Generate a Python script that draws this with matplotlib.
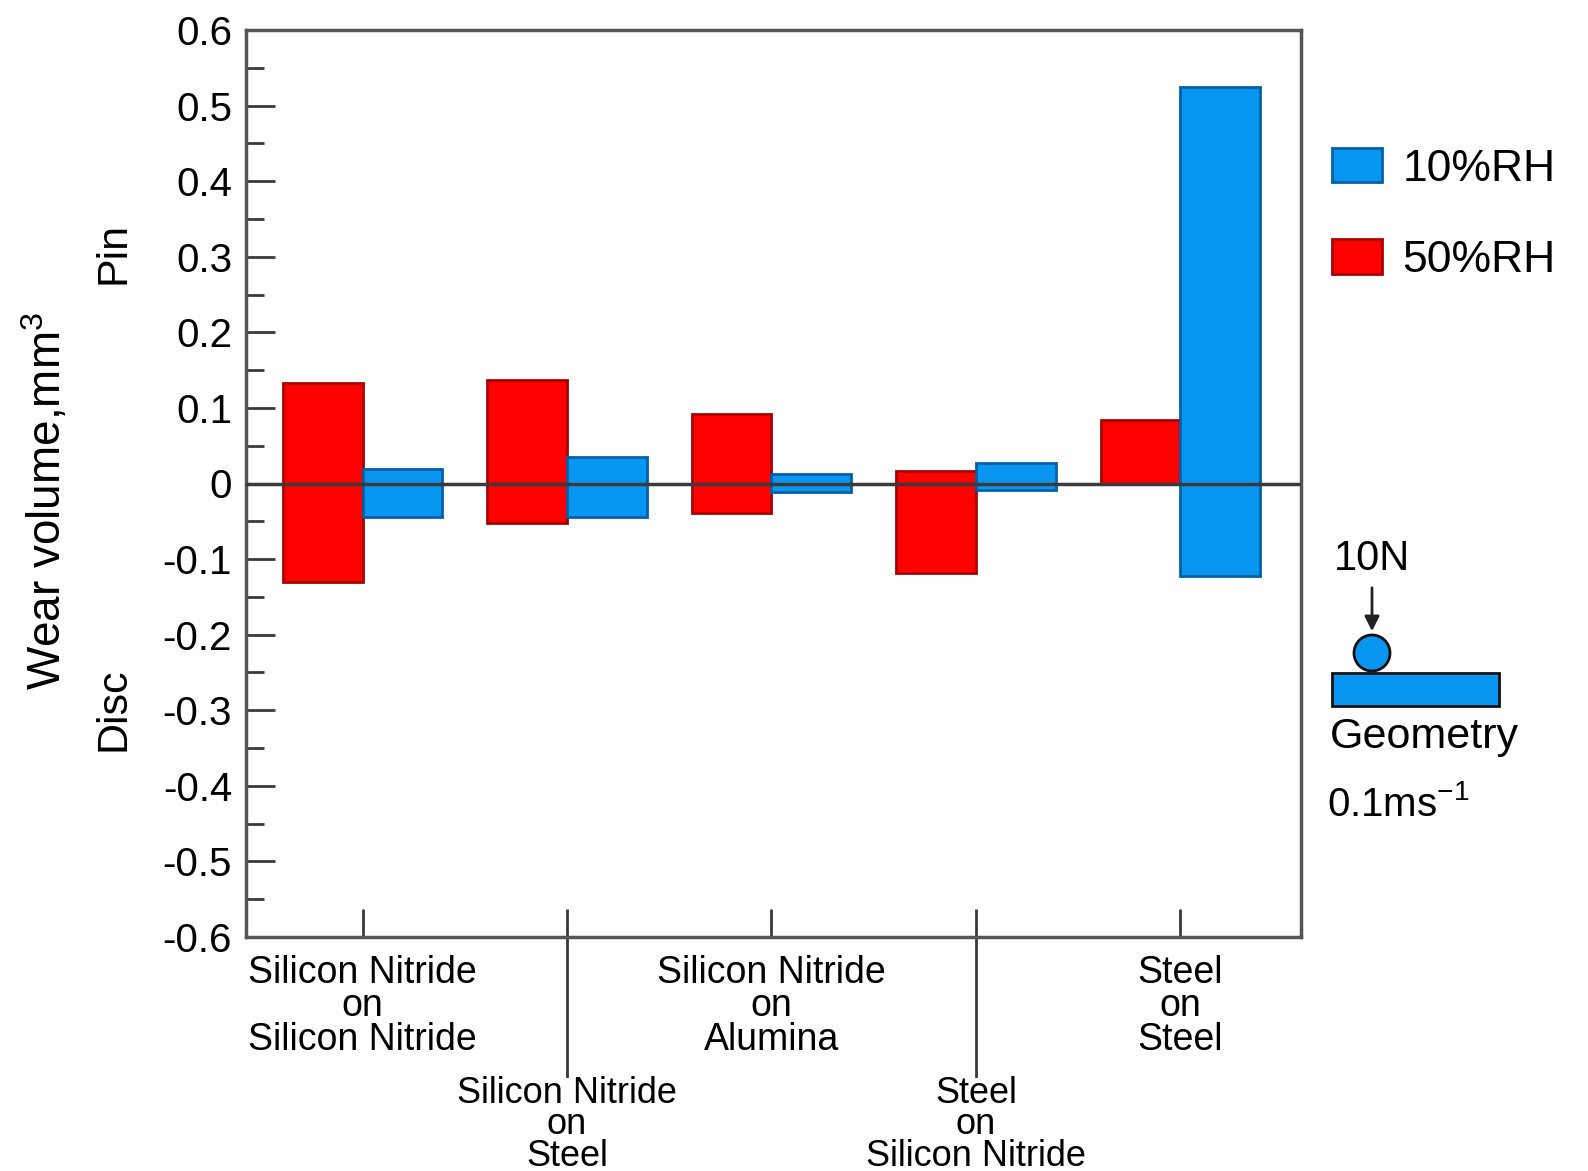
import numpy as np
import matplotlib
matplotlib.use("Agg")
import matplotlib.pyplot as plt
from matplotlib.patches import Circle, Rectangle

plt.rcParams["font.family"] = ["Liberation Sans", "DejaVu Sans"]
plt.rcParams["axes.unicode_minus"] = False
plt.rcParams["mathtext.fontset"] = "custom"
plt.rcParams["mathtext.rm"] = "Liberation Sans"
plt.rcParams["mathtext.default"] = "regular"

# -----------------------------------------------------------------------------
# Data (wear volume, mm^3): pin wear positive, disc wear negative
# -----------------------------------------------------------------------------
categories = [
    "Silicon Nitride\non\nSilicon Nitride",
    "Silicon Nitride\non\nSteel",
    "Silicon Nitride\non\nAlumina",
    "Steel\non\nSilicon Nitride",
    "Steel\non\nSteel",
]
label_row = [0, 1, 0, 1, 0]   # 0 = upper row of labels, 1 = lower row

pin_10 = [0.019, 0.035, 0.012, 0.027, 0.525]
disc_10 = [-0.044, -0.044, -0.011, -0.008, -0.123]
pin_50 = [0.133, 0.137, 0.092, 0.017, 0.084]
disc_50 = [-0.130, -0.052, -0.039, -0.118, 0.0]

yticks = [0.6, 0.5, 0.4, 0.3, 0.2, 0.1, 0.0, -0.1, -0.2, -0.3, -0.4, -0.5, -0.6]
ytick_labels = ["0.6", "0.5", "0.4", "0.3", "0.2", "0.1", "0",
                "-0.1", "-0.2", "-0.3", "-0.4", "-0.5", "-0.6"]

BLUE = "#0896f0"
BLUE_EDGE = "#0060a8"
RED = "#ff0000"
RED_EDGE = "#a80000"
LINE = "#3a3a3a"

W, H = 1588, 1171

# -----------------------------------------------------------------------------
# Figure
# -----------------------------------------------------------------------------
fig = plt.figure(figsize=(W / 100, H / 100), dpi=100)
ax = fig.add_axes([246 / W, 1 - 937 / H, (1301 - 246) / W, (937 - 30) / H])

x = np.arange(len(categories))
w = 0.39
b50 = ax.bar(x - w / 2, np.subtract(pin_50, disc_50), w, bottom=disc_50,
             color=RED, edgecolor=RED_EDGE, linewidth=2, zorder=2)
b10 = ax.bar(x + w / 2, np.subtract(pin_10, disc_10), w, bottom=disc_10,
             color=BLUE, edgecolor=BLUE_EDGE, linewidth=2, zorder=2)
ax.axhline(0, color=LINE, lw=2.5, zorder=3)

ax.set_xlim(-0.57, 4.59)
ax.set_ylim(-0.6, 0.6)
ax.set_yticks(yticks)
ax.set_yticklabels(ytick_labels)
ax.set_yticks(np.arange(-0.55, 0.6, 0.1), minor=True)
ax.set_xticks(x)
ax.set_xticklabels([])
ax.tick_params(axis="y", which="major", direction="in", length=21, width=2,
               pad=10, labelsize=29, color=LINE)
ax.tick_params(axis="y", which="minor", direction="in", length=13, width=2,
               color=LINE)
ax.tick_params(axis="x", direction="in", length=20, width=2, color=LINE)
for s in ax.spines.values():
    s.set_color("#555555")
    s.set_linewidth(2.5)

# category labels, staggered in two rows
for xi, lab, row in zip(x, categories, label_row):
    ytop = -0.02 if row == 0 else -0.153
    ax.text(xi, ytop, lab, transform=ax.get_xaxis_transform(), ha="center",
            va="top", fontsize=27 if row == 0 else 26,
            linespacing=0.9 if row == 0 else 0.87, multialignment="center")
    if row == 1:
        ax.plot([xi, xi], [0, -0.153], transform=ax.get_xaxis_transform(),
                color=LINE, lw=2, clip_on=False)

fig.legend(handles=[b10, b50], labels=["10%RH", "50%RH"], loc="upper left",
           bbox_to_anchor=(1332 / W, 1 - 148 / H), frameon=False, fontsize=32,
           handlelength=1.13, handleheight=0.81, handletextpad=0.45,
           labelspacing=1.12, borderpad=0, borderaxespad=0)

# overlay in pixel units for labels and the geometry sketch
ov = fig.add_axes([0, 0, 1, 1])
ov.set_xlim(0, W)
ov.set_ylim(H, 0)
ov.axis("off")

ov.text(46, 501, "Wear volume,mm$^3$", rotation=90, ha="center",
        va="center", fontsize=33)
ov.text(114, 253, "Pin", rotation=90, ha="center", va="center", fontsize=31)
ov.text(114, 709, "Disc", rotation=90, ha="center", va="center", fontsize=31)

ov.add_patch(Rectangle((1332, 673), 167, 33, fc=BLUE, ec="#111111", lw=2))
ov.add_patch(Circle((1372, 653), 18, fc=BLUE, ec="#111111", lw=2))
ov.annotate("", xy=(1372, 634), xytext=(1372, 585),
            arrowprops=dict(arrowstyle="-|>", color="#222222", lw=2,
                            mutation_scale=22))
ov.text(1372, 559, "10N", ha="center", va="center", fontsize=30)
ov.text(1330, 737, "Geometry", ha="left", va="center", fontsize=31)
ov.text(1327, 805, r"0.1ms$^{-1}$", ha="left", va="center", fontsize=29)

fig.savefig("out.png", dpi=100, facecolor="white")
